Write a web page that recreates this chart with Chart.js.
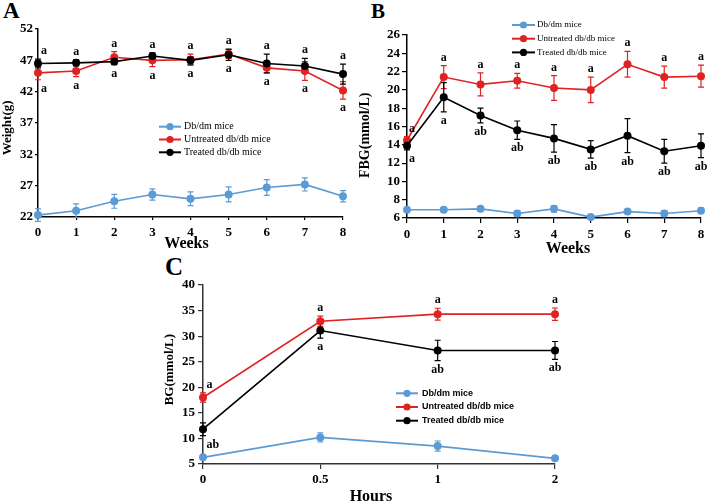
<!DOCTYPE html>
<html><head><meta charset="utf-8">
<script src="https://cdn.jsdelivr.net/npm/chart.js@4/dist/chart.umd.min.js"></script>
<style>
html,body{margin:0;padding:0;background:#fff;width:709px;height:503px;overflow:hidden;position:relative}
canvas{position:absolute}
.pl{position:absolute;font-family:"Liberation Serif",serif;font-weight:bold;color:#000}
</style></head><body>
<div class="pl" style="left:3px;top:-1px;font-size:23px;line-height:23px">A</div>
<div class="pl" style="left:371px;top:1px;font-size:21px;line-height:21px">B</div>
<div class="pl" style="left:165px;top:254px;font-size:25px;line-height:25px">C</div>
<canvas id="cA" width="355" height="255" style="left:0;top:0"></canvas>
<canvas id="cB" width="354" height="260" style="left:355px;top:0"></canvas>
<canvas id="cC" width="440" height="256" style="left:130px;top:255px"></canvas>
<script>
const seriesNames = ['Db/dm mice', 'Untreated db/db mice', 'Treated db/db mice'];
const seriesColors = ['#5B9BD5', '#E02222', '#000000'];

const weeks = ['0', '1', '2', '3', '4', '5', '6', '7', '8'];
const weightTicks = [22, 27, 32, 37, 42, 47, 52];
const weightDbdm = [22.3, 23.0, 24.5, 25.6, 24.9, 25.6, 26.7, 27.2, 25.3];
const weightDbdmErr = [1.0, 1.1, 1.1, 0.9, 1.1, 1.2, 1.25, 1.05, 0.9];
const weightUntreated = [45.0, 45.3, 47.5, 47.0, 47.1, 48.0, 45.8, 45.3, 42.2];
const weightUntreatedErr = [1.1, 0.9, 0.9, 1.0, 0.9, 0.7, 0.8, 1.5, 1.4];
const weightTreated = [46.5, 46.6, 46.8, 47.7, 47.0, 47.9, 46.5, 46.1, 44.8];
const weightTreatedErr = [0.7, 0.5, 0.5, 0.5, 0.6, 0.9, 1.5, 1.2, 1.6];
const weightTopLetters = ['a', 'a', 'a', 'a', 'a', 'a', 'a', 'a', 'a'];
const weightBottomLetters = ['a', 'a', 'a', 'a', 'a', 'a', 'a', 'a', 'a'];

const fbgTicks = [6, 8, 10, 12, 14, 16, 18, 20, 22, 24, 26];
const fbgDbdm = [6.9, 6.9, 7.0, 6.5, 7.0, 6.1, 6.7, 6.5, 6.8];
const fbgDbdmErr = [0.25, 0.2, 0.25, 0.3, 0.35, 0.2, 0.2, 0.3, 0.3];
const fbgUntreated = [14.5, 21.4, 20.6, 21.0, 20.2, 20.0, 22.8, 21.4, 21.5];
const fbgUntreatedErr = [0.4, 1.25, 1.25, 0.8, 1.35, 1.4, 1.4, 1.2, 1.2];
const fbgTreated = [13.9, 19.2, 17.2, 15.6, 14.7, 13.5, 15.0, 13.3, 13.9];
const fbgTreatedErr = [0.45, 1.6, 0.8, 1.0, 1.5, 0.95, 1.85, 1.3, 1.3];
const fbgTopLetters = ['a', 'a', 'a', 'a', 'a', 'a', 'a', 'a', 'a'];
const fbgBottomLetters = ['a', 'a', 'ab', 'ab', 'ab', 'ab', 'ab', 'ab', 'ab'];

const hours = ['0', '0.5', '1', '2'];
const bgTicks = [5, 10, 15, 20, 25, 30, 35, 40];
const bgDbdm = [6.3, 10.2, 8.5, 6.1];
const bgDbdmErr = [0.4, 0.9, 1.0, 0.3];
const bgUntreated = [18.0, 32.9, 34.3, 34.3];
const bgUntreatedErr = [0.9, 1.0, 1.15, 1.2];
const bgTreated = [11.8, 31.1, 27.2, 27.2];
const bgTreatedErr = [1.25, 1.5, 2.0, 1.75];
const bgTopLetters = ['a', 'a', 'a', 'a'];
const bgBottomLetters = ['ab', 'a', 'ab', 'ab'];

const annot = {
  id: 'annot',
  beforeDatasetsDraw(chart, args, o) {
    const ctx = chart.ctx, y = chart.scales.y;
    chart.data.datasets.forEach((ds, i) => {
      const meta = chart.getDatasetMeta(i);
      ctx.save();
      ctx.strokeStyle = ds.borderColor;
      ctx.lineWidth = 1.2;
      ds.data.forEach((v, j) => {
        const px = meta.data[j].x, e = ds.errors[j];
        const t = y.getPixelForValue(v + e), b = y.getPixelForValue(v - e);
        ctx.beginPath();
        ctx.moveTo(px, t); ctx.lineTo(px, b);
        ctx.moveTo(px - o.cap, t); ctx.lineTo(px + o.cap, t);
        ctx.moveTo(px - o.cap, b); ctx.lineTo(px + o.cap, b);
        ctx.stroke();
      });
      ctx.restore();
    });
  },
  afterDatasetsDraw(chart, args, o) {
    const ctx = chart.ctx, x = chart.scales.x, y = chart.scales.y;
    const ds = chart.data.datasets;
    ctx.save();
    ctx.fillStyle = '#000';
    ctx.font = o.letterFont;
    ctx.textBaseline = 'alphabetic';
    o.top.forEach((txt, j) => {
      const hi = Math.max(ds[1].data[j] + ds[1].errors[j], ds[2].data[j] + ds[2].errors[j]);
      const lo = Math.min(ds[1].data[j] - ds[1].errors[j], ds[2].data[j] - ds[2].errors[j]);
      let px = x.getPixelForValue(j);
      if (j === 0) { px += o.firstShift; ctx.textAlign = 'left'; } else ctx.textAlign = 'center';
      ctx.fillText(txt, px, y.getPixelForValue(hi) - o.gapTop);
      ctx.fillText(o.bottom[j], px, y.getPixelForValue(lo) + o.gapBottom);
    });
    const L = o.legend;
    ds.forEach((d, i) => {
      const yy = L.y + i * L.row;
      ctx.strokeStyle = d.borderColor; ctx.lineWidth = 2;
      ctx.beginPath(); ctx.moveTo(L.x, yy); ctx.lineTo(L.x + L.len, yy); ctx.stroke();
      ctx.fillStyle = d.borderColor;
      ctx.beginPath(); ctx.arc(L.x + L.len / 2, yy, L.r, 0, Math.PI * 2); ctx.fill();
      ctx.fillStyle = '#000'; ctx.font = L.font; ctx.textAlign = 'left'; ctx.textBaseline = 'middle';
      ctx.fillText(d.label, L.x + L.len + L.gap, yy);
    });
    ctx.restore();
  }
};

function build(id, cfg) {
  const datasets = cfg.values.map((vals, i) => ({
    label: seriesNames[i],
    data: vals,
    errors: cfg.errors[i],
    borderColor: seriesColors[i],
    backgroundColor: seriesColors[i],
    pointBackgroundColor: seriesColors[i],
    pointBorderWidth: 0,
    pointRadius: 4,
    borderWidth: 1.6,
    tension: 0,
    clip: false,
    order: 2 - i
  }));
  const tickFont = { family: '"Liberation Serif", serif', weight: 'bold', size: 13 };
  new Chart(document.getElementById(id), {
    type: 'line',
    data: { labels: cfg.labels, datasets },
    plugins: [annot],
    options: {
      responsive: false,
      animation: false,
      layout: { padding: cfg.padding },
      plugins: {
        legend: { display: false },
        tooltip: { enabled: false },
        annot: cfg.annot
      },
      scales: {
        x: {
          type: 'category',
          offset: false,
          border: { display: true, color: cfg.axisColor, width: 1.5 },
          grid: { display: true, drawOnChartArea: false, drawTicks: true, tickLength: cfg.tickLen, color: cfg.axisColor, lineWidth: 1.2 },
          ticks: { color: '#000', font: tickFont, padding: cfg.xPad, autoSkip: false, maxRotation: 0 },
          title: { display: true, text: cfg.xTitle, color: '#000', font: { family: '"Liberation Serif", serif', weight: 'bold', size: 16 }, padding: { top: 0, bottom: cfg.xTitlePad } },
          afterFit: s => { s.height = cfg.xHeight; }
        },
        y: {
          type: 'linear',
          min: cfg.ticks[0],
          max: cfg.ticks[cfg.ticks.length - 1],
          border: { display: true, color: cfg.axisColor, width: 1.5 },
          grid: { display: true, drawOnChartArea: false, drawTicks: true, tickLength: cfg.tickLen, color: cfg.axisColor, lineWidth: 1.2 },
          ticks: { color: '#000', font: tickFont, padding: cfg.yPad, autoSkip: false },
          afterBuildTicks: s => { s.ticks = cfg.ticks.map(v => ({ value: v })); },
          title: { display: true, text: cfg.yTitle, color: '#000', font: { family: '"Liberation Serif", serif', weight: 'bold', size: cfg.yTitleSize }, padding: { top: cfg.yTitlePad, bottom: 0 } },
          afterFit: s => { s.width = cfg.yWidth; }
        }
      }
    }
  });
}

build('cA', {
  labels: weeks, ticks: weightTicks,
  values: [weightDbdm, weightUntreated, weightTreated],
  errors: [weightDbdmErr, weightUntreatedErr, weightTreatedErr],
  padding: { top: 29, right: 12, left: 0, bottom: 0 },
  xHeight: 38, yWidth: 38, tickLen: 3, xPad: 5, yPad: 2, axisColor: '#000',
  xTitle: 'Weeks  ', xTitlePad: 2, yTitle: 'Weight(g)   ', yTitleSize: 13, yTitlePad: 0,
  annot: {
    cap: 3, letterFont: 'bold 12px "Liberation Serif"', gapTop: 5, gapBottom: 12, firstShift: 3,
    top: weightTopLetters, bottom: weightBottomLetters,
    legend: { x: 159, y: 126.7, row: 12.8, len: 22, r: 3.6, gap: 3, font: '10px "Liberation Serif"' }
  }
});

build('cB', {
  labels: weeks, ticks: fbgTicks,
  values: [fbgDbdm, fbgUntreated, fbgTreated],
  errors: [fbgDbdmErr, fbgUntreatedErr, fbgTreatedErr],
  padding: { top: 35, right: 8, left: 0, bottom: 0 },
  xHeight: 42, yWidth: 52, tickLen: 5, xPad: 4, yPad: 2, axisColor: '#000',
  xTitle: '       Weeks', xTitlePad: 2, yTitle: 'FBG(mmol/L)     ', yTitleSize: 14, yTitlePad: 1.6,
  annot: {
    cap: 3, letterFont: 'bold 12px "Liberation Serif"', gapTop: 5, gapBottom: 12, firstShift: 2,
    top: fbgTopLetters, bottom: fbgBottomLetters,
    legend: { x: 157, y: 25, row: 13.7, len: 23, r: 3.6, gap: 2, font: '9px "Liberation Serif"' }
  }
});

build('cC', {
  labels: hours, ticks: bgTicks,
  values: [bgDbdm, bgUntreated, bgTreated],
  errors: [bgDbdmErr, bgUntreatedErr, bgTreatedErr],
  padding: { top: 30, right: 15, left: 0, bottom: 0 },
  xHeight: 47, yWidth: 73, tickLen: 5, xPad: 3, yPad: 3, axisColor: '#333',
  xTitle: 'Hours    ', xTitlePad: 4.4, yTitle: '   BG(mmol/L)', yTitleSize: 13, yTitlePad: 32,
  annot: {
    cap: 3, letterFont: 'bold 12px "Liberation Serif"', gapTop: 5, gapBottom: 12, firstShift: 3.5,
    top: bgTopLetters, bottom: bgBottomLetters,
    legend: { x: 266, y: 138.3, row: 13.7, len: 22, r: 3.6, gap: 4, font: 'bold 9px "Liberation Sans"' }
  }
});
</script>
</body></html>
